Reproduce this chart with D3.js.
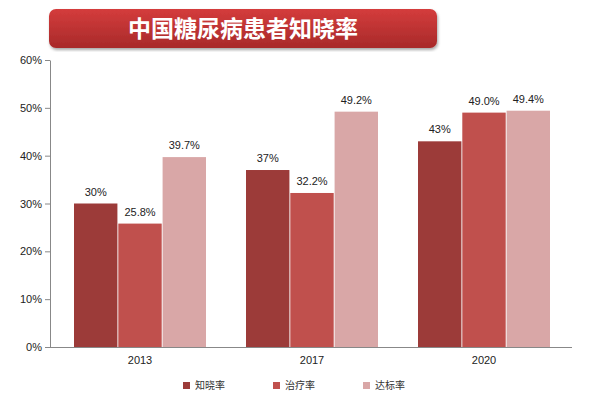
<!DOCTYPE html>
<html><head><meta charset="utf-8">
<script src="https://cdn.jsdelivr.net/npm/d3@7"></script>
<style>body{margin:0;background:#fff}</style></head>
<body><svg id="c" width="600" height="400"></svg>
<script>
const years = ["2013","2017","2020"];
const seriesNames = ["知晓率","治疗率","达标率"];
const aware = [30, 37, 43];
const treat = [25.8, 32.2, 49.0];
const ctrl = [39.7, 49.2, 49.4];
const labels = [["30%","37%","43%"],["25.8%","32.2%","49.0%"],["39.7%","49.2%","49.4%"]];
const yTicks = [0,10,20,30,40,50,60];
const colors = ["#9c3b39","#c0504d","#d9a7a7"];
const series = [aware, treat, ctrl];

const svg = d3.select("#c");
const defs = svg.append("defs");
const g1 = defs.append("linearGradient").attr("id","tg").attr("x1",0).attr("y1",0).attr("x2",0).attr("y2",1);
g1.append("stop").attr("offset","0%").attr("stop-color","#d43c3c");
g1.append("stop").attr("offset","100%").attr("stop-color","#a82a2a");
const f = defs.append("filter").attr("id","sh");
f.append("feDropShadow").attr("dx",1).attr("dy",2).attr("stdDeviation",1.5).attr("flood-opacity",0.35);
svg.append("rect").attr("x",49).attr("y",9).attr("width",388).attr("height",39).attr("rx",7)
  .attr("fill","url(#tg)").attr("filter","url(#sh)");
svg.append("text").attr("x",243).attr("y",37).attr("text-anchor","middle").attr("fill","#fff")
  .attr("font-family","Noto Sans CJK SC").attr("font-weight","bold").attr("font-size",23).text("中国糖尿病患者知晓率");

const y = d3.scaleLinear().domain([0,60]).range([347,60]);
const x0 = d3.scaleBand().domain(years).range([54,570]).paddingInner(40/172).paddingOuter(20/172);
const x1 = d3.scaleBand().domain([0,1,2]).range([0,x0.bandwidth()]).paddingInner(0.02);

const ya = svg.append("g").attr("transform","translate(50,0)")
  .call(d3.axisLeft(y).tickValues(yTicks).tickFormat(d=>d+"%").tickSize(5).tickSizeOuter(0));
ya.selectAll("text").attr("font-family","Liberation Sans").attr("font-size",11).attr("fill","#222");
ya.selectAll("path,line").attr("stroke","#888");
const xa = svg.append("g").attr("transform","translate(0,347)")
  .call(d3.axisBottom(x0).tickSize(0).tickPadding(9));
xa.select("path").attr("d","M50,0.5H572").attr("stroke","#888");
xa.selectAll("text").attr("font-family","Liberation Sans").attr("font-size",11).attr("fill","#222");

series.forEach((s,i)=>{
  const g = svg.append("g");
  g.selectAll("rect").data(s).join("rect")
    .attr("x",(d,j)=>x0(years[j])+x1(i)).attr("width",x1.bandwidth())
    .attr("y",d=>y(d)).attr("height",d=>347-y(d)).attr("fill",colors[i]);
  g.selectAll("text").data(s).join("text")
    .attr("x",(d,j)=>x0(years[j])+x1(i)+x1.bandwidth()/2).attr("y",d=>y(d)-8)
    .attr("text-anchor","middle").attr("font-family","Liberation Sans").attr("font-size",11).attr("fill","#222")
    .text((d,j)=>labels[i][j]);
});

const lg = svg.append("g");
seriesNames.forEach((n,i)=>{
  const lx = 183 + i*90;
  lg.append("rect").attr("x",lx).attr("y",382).attr("width",7).attr("height",7).attr("fill",colors[i]);
  lg.append("text").attr("x",lx+12).attr("y",389).attr("font-family","Noto Sans CJK SC").attr("font-size",10).attr("fill","#333").text(n);
});
</script></body></html>
